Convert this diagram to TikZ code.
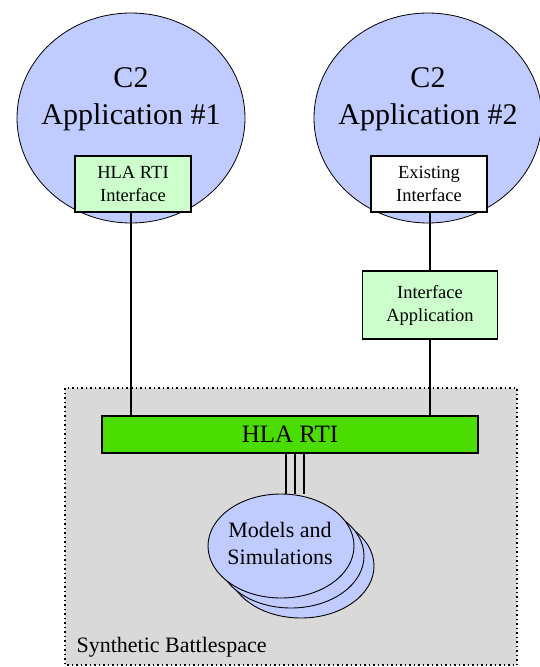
\documentclass[tikz,border=0pt]{standalone}
\usepackage{fontspec}
\setmainfont{Liberation Serif}
\usetikzlibrary{shapes.geometric}
\definecolor{appblue}{RGB}{192,204,255}
\definecolor{ifgreen}{RGB}{204,255,204}
\definecolor{rtigreen}{RGB}{76,221,0}
\definecolor{spacegray}{RGB}{217,217,217}
\begin{document}
\begin{tikzpicture}[x=1pt,y=-1pt,
  appcircle/.style = {draw,shape = ellipse,fill = appblue,line width = 0.8pt,minimum width = 228pt,minimum height = 210pt,inner sep = 0pt},
  apptext/.style = {align = center,font = \fontsize{30}{37}\selectfont},
  ifbox/.style = {draw,fill = ifgreen,line width = 1.2pt,align = center,inner sep = 0pt,font = \fontsize{18.5}{23}\selectfont},
  rtibar/.style = {draw,fill = rtigreen,line width = 1.2pt,minimum width = 376pt,minimum height = 37pt,inner sep = 0pt,font = \fontsize{25}{30}\selectfont},
  simell/.style = {draw,shape = ellipse,fill = appblue,line width = 0.9pt,minimum width = 146pt,minimum height = 104pt,inner sep = 0pt},
  link/.style = {line width = 1.5pt}]
\useasboundingbox (0,0) rectangle (539,667);
% synthetic battlespace
\draw[fill = spacegray,line width = 1.4pt,dash pattern = on 1.5pt off 3pt] (65,388) rectangle (517,665);
\node at (73,647) [anchor = west,font = \fontsize{22}{26}\selectfont](space){Synthetic Battlespace};
% C2 applications
\node at (131,118) [appcircle](app1){};
\node at (131,99) [apptext](app1txt){C2\\Application \#1};
\node at (428,118) [appcircle](app2){};
\node at (428,99) [apptext](app2txt){C2\\Application \#2};
\node at (133,184) [ifbox,minimum width = 116pt,minimum height = 56pt](rtiif){HLA RTI\\Interface};
\node at (429,184) [ifbox,fill = white,minimum width = 116pt,minimum height = 56pt](existif){Existing\\Interface};
\node at (430,305) [ifbox,minimum width = 135pt,minimum height = 68pt](ifapp){Interface\\Application};
\node at (290,434.5) [rtibar](rti){HLA RTI};
% models and simulations
\node at (301,566) [simell](sim3){};
\node at (291,556) [simell](sim2){};
\node at (281,546) [simell](sim1){};
\node at (280,543) [align = center,font = \fontsize{22}{27}\selectfont](simtxt){Models and\\Simulations};
\draw[link] (rtiif.south -| 131,0) -- (rti.north -| 131,0);
\draw[link] (existif.south -| ifapp) -- (ifapp);
\draw[link] (ifapp) -- (ifapp |- rti.north);
\foreach \x in {286,295,304}
  \draw[link] (rti.south -| \x,0) -- (sim1.north -| \x,0);
\end{tikzpicture}
\end{document}
